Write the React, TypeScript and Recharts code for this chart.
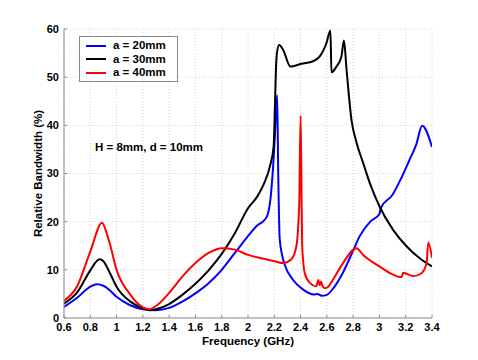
import React from "react";
import {
    LineChart,
    Line,
    XAxis,
    YAxis,
    CartesianGrid,
} from "recharts";

// Frequency axis ticks (GHz) and bandwidth ticks (%)
const freqTicks = [0.6, 0.8, 1, 1.2, 1.4, 1.6, 1.8, 2, 2.2, 2.4, 2.6, 2.8, 3, 3.2, 3.4];
const bwTicks = [0, 10, 20, 30, 40, 50, 60];

// a = 20mm
const freq20 = [0.6, 0.7, 0.8, 0.85, 0.9, 0.95, 1.0, 1.1, 1.2, 1.3, 1.4, 1.5, 1.6, 1.7, 1.8, 1.9, 2.0, 2.07, 2.12, 2.15, 2.17, 2.19, 2.205, 2.222, 2.23, 2.241, 2.26, 2.28, 2.34, 2.42, 2.5, 2.53, 2.56, 2.6, 2.65, 2.72, 2.8, 2.85, 2.93, 3.0, 3.01, 3.1, 3.16, 3.23, 3.28, 3.325, 3.4];
const bw20 = [2.3, 4.2, 6.5, 7.0, 6.7, 5.7, 4.4, 2.7, 1.8, 1.6, 2.1, 3.4, 5.1, 7.2, 10.0, 13.5, 17.0, 19.2, 20.2, 21.5, 24.5, 31.0, 38.0, 46.3, 30.0, 16.5, 13.0, 11.0, 8.0, 5.9, 4.9, 5.0, 4.6, 4.8, 6.2, 9.3, 14.0, 17.0, 20.0, 21.6, 22.8, 25.6, 28.7, 32.9, 36.0, 39.9, 35.5];

// a = 30mm
const freq30 = [0.6, 0.7, 0.8, 0.87, 0.9, 0.95, 1.0, 1.1, 1.2, 1.25, 1.3, 1.4, 1.5, 1.6, 1.7, 1.8, 1.9, 2.0, 2.07, 2.12, 2.17, 2.195, 2.205, 2.212, 2.22, 2.237, 2.267, 2.323, 2.406, 2.495, 2.546, 2.597, 2.627, 2.635, 2.673, 2.711, 2.73, 2.75, 2.787, 2.825, 2.876, 2.927, 3.0, 3.104, 3.206, 3.307, 3.4];
const bw30 = [3.0, 5.3, 9.9, 12.2, 11.8, 9.3, 6.5, 3.5, 2.0, 1.6, 1.8, 2.9, 4.8, 7.1, 9.9, 13.3, 17.6, 22.8, 25.2, 27.8, 31.8, 35.6, 44.0, 51.0, 55.0, 56.7, 55.7, 52.2, 52.8, 53.3, 54.3, 57.1, 59.7, 51.0, 52.2, 54.3, 57.6, 51.5, 41.2, 36.5, 32.2, 28.0, 23.2, 18.3, 14.9, 12.4, 10.7];

// a = 40mm
const freq40 = [0.6, 0.7, 0.8, 0.89, 0.92, 0.95, 1.0, 1.1, 1.2, 1.25, 1.3, 1.4, 1.5, 1.6, 1.7, 1.8, 1.9, 2.0, 2.1, 2.2, 2.267, 2.33, 2.368, 2.39, 2.4, 2.406, 2.412, 2.432, 2.47, 2.52, 2.535, 2.545, 2.555, 2.565, 2.584, 2.61, 2.645, 2.723, 2.825, 2.876, 3.0, 3.104, 3.155, 3.17, 3.18, 3.256, 3.32, 3.358, 3.372, 3.4];
const bw40 = [3.6, 6.6, 13.8, 19.8, 18.0, 15.3, 10.0, 5.0, 2.2, 1.8, 2.5, 5.2, 8.6, 11.4, 13.5, 14.5, 14.2, 13.1, 12.4, 11.8, 11.4, 12.2, 14.9, 24.0, 42.0, 30.0, 15.0, 9.3, 7.3, 6.6, 7.9, 6.8, 7.6, 6.8, 6.2, 6.5, 7.9, 11.4, 14.5, 13.1, 10.7, 9.0, 8.5, 8.5, 9.4, 8.7, 9.3, 11.3, 15.7, 12.5];

const seriesNames = ["a = 20mm", "a = 30mm", "a = 40mm"];
const seriesColors = ["#0000ff", "#000000", "#ff0000"];

const zip = (f: number[], v: number[]) => f.map((x, i) => ({ f: x, v: v[i] }));

const seriesData = [zip(freq20, bw20), zip(freq30, bw30), zip(freq40, bw40)];

const FONT = '"Liberation Sans", Arial, sans-serif';
const FRAME = "#8c8c8c";

const tickStyle = { fontFamily: FONT, fontSize: 11, fontWeight: 700, fill: "#000" };

export default function App() {
    return (
        <div style={{ position: "absolute", left: 0, top: 0, width: 478, height: 360, background: "#fff" }}>
            <LineChart width={478} height={360} margin={{ top: 29, right: 46, left: 0, bottom: 0 }}>
                <CartesianGrid stroke="#d4d4d4" strokeDasharray="1 2" />
                <XAxis
                    dataKey="f"
                    type="number"
                    domain={[0.6, 3.4]}
                    ticks={freqTicks}
                    allowDataOverflow
                    height={42}
                    stroke={FRAME}
                    tickSize={-3}
                    tickMargin={8}
                    tick={tickStyle}
                    label={{
                        value: "Frequency (GHz)",
                        position: "insideBottom",
                        offset: 15,
                        style: { fontFamily: FONT, fontSize: 11.5, fontWeight: 700, fill: "#000" },
                    }}
                />
                <XAxis
                    xAxisId="top"
                    orientation="top"
                    dataKey="f"
                    type="number"
                    domain={[0.6, 3.4]}
                    ticks={freqTicks}
                    height={0}
                    stroke={FRAME}
                    tickSize={-3}
                    tickFormatter={() => ""}
                />
                <YAxis
                    type="number"
                    domain={[0, 60]}
                    ticks={bwTicks}
                    width={64}
                    stroke={FRAME}
                    tickSize={-3}
                    tickMargin={8}
                    tick={tickStyle}
                    label={{
                        value: "Relative Bandwidth (%)",
                        angle: -90,
                        position: "insideLeft",
                        offset: 0,
                        dx: 38,
                        style: { fontFamily: FONT, fontSize: 11.5, fontWeight: 700, fill: "#000", textAnchor: "middle" },
                    }}
                />
                <YAxis
                    yAxisId="right"
                    orientation="right"
                    type="number"
                    domain={[0, 60]}
                    ticks={bwTicks}
                    width={0}
                    stroke={FRAME}
                    tickSize={-3}
                    tickFormatter={() => ""}
                />
                {seriesData.map((d, i) => (
                    <Line
                        key={seriesNames[i]}
                        data={d}
                        dataKey="v"
                        name={seriesNames[i]}
                        type="monotone"
                        stroke={seriesColors[i]}
                        strokeWidth={2}
                        dot={false}
                        isAnimationActive={false}
                    />
                ))}
            </LineChart>
            {/* legend box */}
            <div
                style={{
                    position: "absolute",
                    left: 79,
                    top: 36,
                    width: 91,
                    border: "1px solid #888",
                    background: "#fff",
                    padding: "2px 0 1px 6px",
                    fontFamily: FONT,
                    fontSize: 11.5,
                    fontWeight: 700,
                    lineHeight: "13.5px",
                }}
            >
                {seriesNames.map((n, i) => (
                    <div key={n} style={{ display: "flex", alignItems: "center" }}>
                        <span style={{ display: "inline-block", width: 20, height: 2, background: seriesColors[i], marginRight: 7 }} />
                        <span>{n}</span>
                    </div>
                ))}
            </div>
            <div
                style={{
                    position: "absolute",
                    left: 95,
                    top: 141,
                    fontFamily: FONT,
                    fontSize: 11.5,
                    fontWeight: 700,
                    whiteSpace: "nowrap",
                }}
            >
                H = 8mm, d = 10mm
            </div>
        </div>
    );
}
